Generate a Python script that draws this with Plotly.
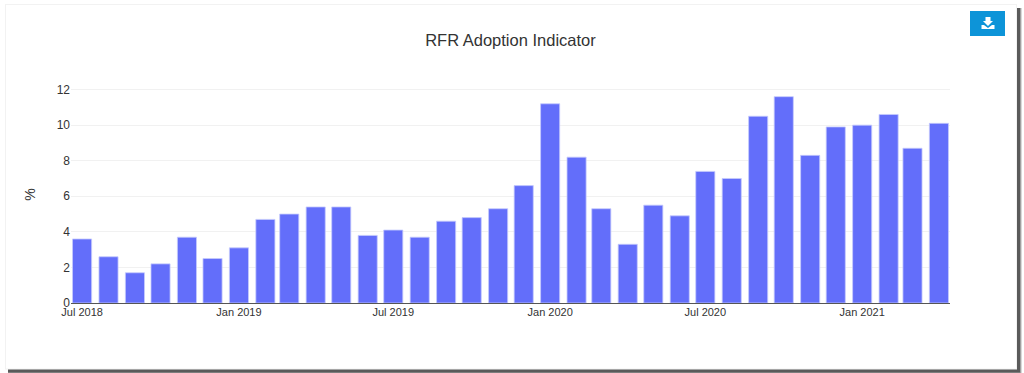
import plotly.graph_objects as go

W, H = 1024, 373
ML, MR, MT, MB = 71, 74, 86, 70
months = ["2018-07-01","2018-08-01","2018-09-01","2018-10-01","2018-11-01","2018-12-01",
          "2019-01-01","2019-02-01","2019-03-01","2019-04-01","2019-05-01","2019-06-01",
          "2019-07-01","2019-08-01","2019-09-01","2019-10-01","2019-11-01","2019-12-01",
          "2020-01-01","2020-02-01","2020-03-01","2020-04-01","2020-05-01","2020-06-01",
          "2020-07-01","2020-08-01","2020-09-01","2020-10-01","2020-11-01","2020-12-01",
          "2021-01-01","2021-02-01","2021-03-01","2021-04-01"]
values = [3.6,2.6,1.7,2.2,3.7,2.5,3.1,4.7,5.0,5.4,5.4,3.8,4.1,3.7,4.6,4.8,5.3,6.6,
          11.2,8.2,5.3,3.3,5.5,4.9,7.4,7.0,10.5,11.6,8.3,9.9,10.0,10.6,8.7,10.1]

def px(x): return (x - ML) / (W - ML - MR)
def py(y): return (H - MB - y) / (H - MT - MB)

def rect(x0, y0, x1, y1, fill, layer="below"):
    return dict(type="rect", xref="paper", yref="paper", x0=px(x0), x1=px(x1),
                y0=py(y1), y1=py(y0), fillcolor=fill,
                line=dict(width=0), layer=layer)

def path(points, fill):
    d = "M " + " L ".join(f"{px(x):.5f},{py(y):.5f}" for x, y in points) + " Z"
    return dict(type="path", xref="paper", yref="paper", path=d, fillcolor=fill,
                line=dict(width=0), layer="above")

shapes = [
    rect(8, 8, 1022, 373, "#d8d8d8"),
    rect(8, 8, 1021, 373, "#a0a0a0"),
    rect(8, 8, 1020, 372.5, "#5a5a5a"),
    rect(5, 4, 1017, 369.5, "#f2f2f2"),
    rect(6, 5, 1016, 368.5, "#ffffff"),
    rect(970, 11, 1005, 36, "#0d94d8", layer="above"),
    path([(985.5,17),(990.5,17),(990.5,21),(993,21),(988,26),(983,21),(985.5,21)], "#ffffff"),
    path([(981.5,25),(984,25),(988,28),(992,25),(994.5,25),(994.5,29),(981.5,29)], "#ffffff"),
]

fig = go.Figure(go.Bar(x=months, y=values, marker=dict(color="#636efa",
                line=dict(color="#c5cafc", width=0.8))))
fig.update_layout(
    template="plotly_white", width=W, height=H,
    margin=dict(l=ML, r=MR, t=MT, b=MB),
    font=dict(family="Liberation Sans, Arial, sans-serif", color="#333333", size=12),
    title=dict(text="RFR Adoption Indicator", x=0.4985, xanchor="center", y=0.893, yanchor="middle",
               font=dict(size=16.5, color="#333333")),
    shapes=shapes, showlegend=False, paper_bgcolor="#ffffff", plot_bgcolor="rgba(0,0,0,0)",
)
fig.update_xaxes(type="date", range=["2018-06-18","2021-04-14"], dtick="M6", tick0="2018-07-01",
                 tickformat="%b %Y", showgrid=False, showline=True, linecolor="#555555",
                 linewidth=1, ticks="", ticklabelstandoff=-1, tickfont=dict(size=11, color="#333333"))
fig.update_yaxes(range=[0, 12.2], dtick=2, gridcolor="#f1f1f1", zeroline=False,
                 tickfont=dict(size=12, color="#333333"),
                 title=dict(text="%", font=dict(size=14, color="#333333"), standoff=17))
fig.write_html("out.html", config=dict(displayModeBar=False),
               post_script="document.body.style.margin='0';document.body.style.overflow='hidden';")
